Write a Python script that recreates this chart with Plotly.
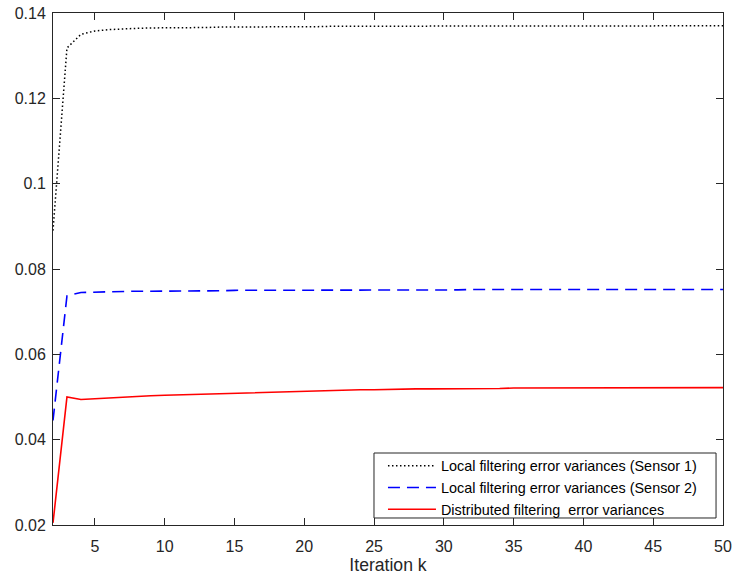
import plotly.graph_objects as go

k = list(range(2, 51))

sensor1 = [0.0890, 0.1318, 0.1350, 0.1358, 0.1361, 0.1363, 0.1364, 0.1365, 0.1365, 0.1366,
           0.1366, 0.1366, 0.1367, 0.1367, 0.1367, 0.1368, 0.1368, 0.1368, 0.1368, 0.1368,
           0.1369, 0.1369, 0.1369, 0.1369, 0.1369, 0.1369, 0.1369, 0.1369, 0.1369, 0.1369,
           0.1370, 0.1370, 0.1370, 0.1370, 0.1370, 0.1370, 0.1370, 0.1370, 0.1370, 0.1370,
           0.1370, 0.1370, 0.1370, 0.1370, 0.1370, 0.1370, 0.1370, 0.1370, 0.1370]

sensor2 = [0.0445, 0.0737, 0.0745, 0.0746, 0.0747, 0.0747, 0.0748, 0.0748, 0.0748, 0.0749,
           0.0749, 0.0749, 0.0749, 0.0750, 0.0750, 0.0750, 0.0750, 0.0750, 0.0750, 0.0751,
           0.0751, 0.0751, 0.0751, 0.0751, 0.0751, 0.0751, 0.0751, 0.0751, 0.0751, 0.0751,
           0.0752, 0.0752, 0.0752, 0.0752, 0.0752, 0.0752, 0.0752, 0.0752, 0.0752, 0.0752,
           0.0752, 0.0752, 0.0752, 0.0752, 0.0752, 0.0752, 0.0752, 0.0752, 0.0752]

distributed = [0.0205, 0.0500, 0.0494, 0.0496, 0.0498, 0.0500, 0.0501, 0.0503, 0.0504, 0.0505,
               0.0506, 0.0507, 0.0508, 0.0509, 0.0510, 0.0511, 0.0512, 0.0513, 0.0514, 0.0515,
               0.0515, 0.0516, 0.0517, 0.0517, 0.0518, 0.0518, 0.0519, 0.0519, 0.0519, 0.0520,
               0.0520, 0.0520, 0.0520, 0.0521, 0.0521, 0.0521, 0.0521, 0.0521, 0.0521, 0.0521,
               0.0522, 0.0522, 0.0522, 0.0522, 0.0522, 0.0522, 0.0522, 0.0522, 0.0522]

names = ["Local filtering error variances (Sensor 1)",
         "Local filtering error variances (Sensor 2)",
         "Distributed filtering  error variances"]

x_ticks = [5, 10, 15, 20, 25, 30, 35, 40, 45, 50]
y_ticks = [0.02, 0.04, 0.06, 0.08, 0.10, 0.12, 0.14]
y_tick_text = ["0.02", "0.04", "0.06", "0.08", "0.1", "0.12", "0.14"]

FONT = "Liberation Sans, Arial, Helvetica, sans-serif"
AX = "#262626"

fig = go.Figure()
fig.add_trace(go.Scatter(x=k, y=sensor1, mode="lines", name=names[0],
                         line=dict(color="black", width=1.5, dash="1.5px,2.5px")))
fig.add_trace(go.Scatter(x=k, y=sensor2, mode="lines", name=names[1],
                         line=dict(color="#0000ff", width=1.6, dash="12px,7px")))
fig.add_trace(go.Scatter(x=k, y=distributed, mode="lines", name=names[2],
                         line=dict(color="#ff0000", width=1.6)))

axis_common = dict(showline=True, linecolor=AX, linewidth=1, mirror="ticks",
                   ticks="inside", ticklen=7, tickwidth=1, tickcolor=AX,
                   showgrid=False, zeroline=False, ticklabeloverflow="allow",
                   automargin=False,
                   tickfont=dict(family=FONT, size=16, color=AX))

fig.update_xaxes(range=[2, 50], tickvals=x_ticks, ticklabelstandoff=7,
                 title=dict(text="Iteration k", font=dict(family=FONT, size=17.6, color=AX), standoff=4),
                 **axis_common)
fig.update_yaxes(range=[0.02, 0.14], tickvals=y_ticks, ticktext=y_tick_text,
                 ticklabelstandoff=3, **axis_common)

# legend frame (white box with thin border) behind the legend entries
fig.add_shape(type="rect", xref="paper", yref="paper",
              x0=0.4791, x1=0.9896, y0=0.0137, y1=0.1406,
              fillcolor="white", line=dict(color=AX, width=1), layer="above")

fig.update_layout(
    width=735, height=581,
    margin=dict(l=53, r=12, t=13, b=56, autoexpand=False),
    paper_bgcolor="white", plot_bgcolor="white",
    showlegend=True,
    legend=dict(x=0.4925, y=0.1465, xanchor="left", yanchor="top",
                bgcolor="rgba(0,0,0,0)", borderwidth=0,
                font=dict(family=FONT, size=14.4, color="black"),
                itemwidth=48, tracegroupgap=0),
)

# remove the browser's default 8px page margin so the figure sits at the top-left corner
fig.write_html("out.html", config={"displayModeBar": False},
               post_script="document.body.style.margin='0px';")
